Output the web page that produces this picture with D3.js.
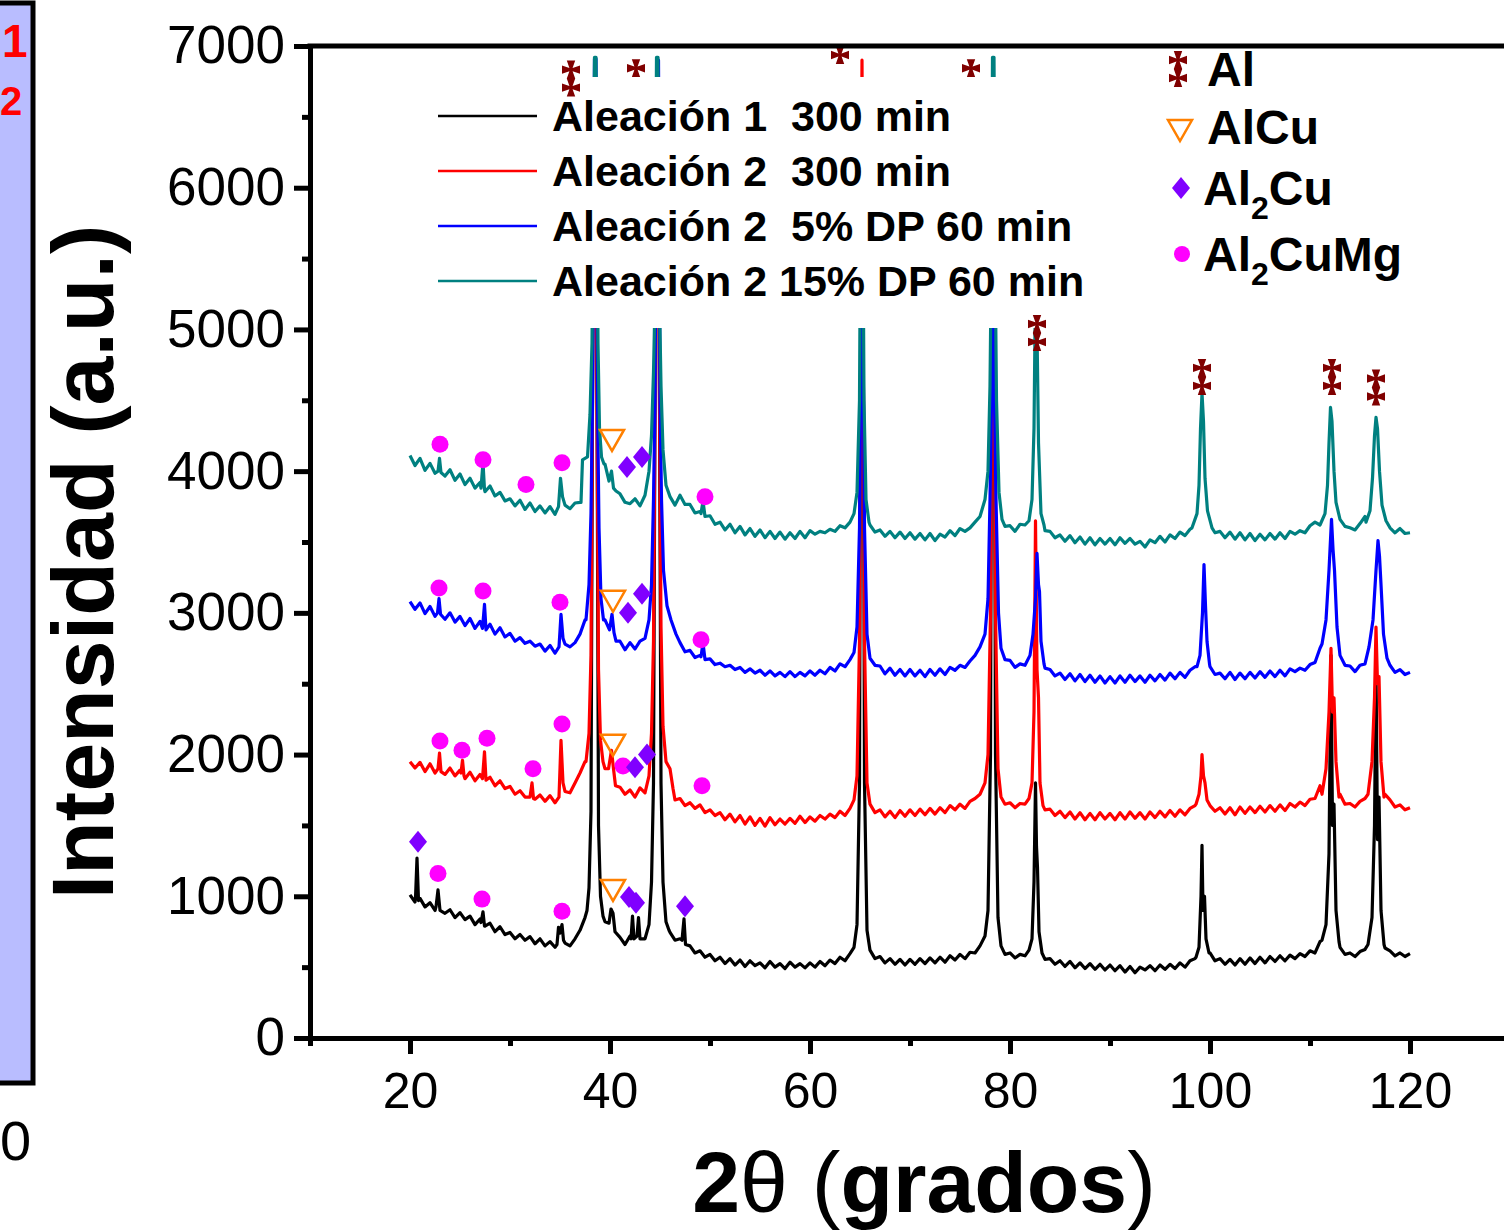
<!DOCTYPE html>
<html>
<head>
<meta charset="utf-8">
<script src="https://cdn.jsdelivr.net/npm/d3@7"></script>
<style>
body{margin:0;background:#fff}
svg{display:block;font-family:"Liberation Sans",Arial,sans-serif}
</style>
</head>
<body>
<svg id="chart" width="1504" height="1231"></svg>
<script>
// 2theta grid for the background readings (20 to 120, every 0.5 deg)
const twoTheta = d3.range(201).map(i => 20 + i * 0.5)

// background intensity, one row per 10 deg
const bgBlack = [
	1010, 960, 985, 925, 955, 900, 940, 880, 905, 850, 885, 835, 860, 800, 840, 790, 810, 750, 785, 730,
	745, 700, 730, 690, 715, 665, 700, 650, 680, 640, 690, 670, 650, 700, 760, 850, 1000, 1400, 1000, 820,
	800, 740, 710, 660, 720, 690, 735, 700, 820, 1000, 1000, 800, 745, 690, 700, 660, 650, 600, 615, 570,
	590, 545, 570, 525, 560, 515, 550, 505, 545, 510, 530, 495, 540, 500, 525, 490, 535, 500, 525, 495,
	530, 500, 540, 510, 550, 525, 570, 545, 595, 640, 700, 700, 620, 560, 575, 530, 560, 520, 555, 515,
	555, 520, 560, 525, 565, 530, 570, 535, 580, 550, 590, 560, 605, 600, 650, 720, 700, 700, 640, 590,
	600, 565, 590, 580, 630, 700, 600, 555, 560, 520, 545, 505, 540, 495, 530, 490, 525, 485, 520, 480,
	515, 475, 510, 465, 505, 460, 500, 480, 510, 475, 515, 485, 520, 490, 530, 500, 545, 560, 600, 600,
	600, 545, 560, 520, 555, 515, 560, 520, 565, 525, 570, 530, 575, 540, 580, 545, 585, 560, 595, 575,
	615, 600, 680, 700, 700, 700, 640, 590, 600, 575, 610, 625, 700, 700, 700, 635, 615, 580, 600, 575,
	595
]
const bgRed = [
	1950, 1905, 1945, 1880, 1935, 1870, 1915, 1860, 1905, 1850, 1890, 1830, 1875, 1815, 1860, 1800, 1840, 1780, 1815, 1760,
	1775, 1720, 1745, 1700, 1730, 1685, 1715, 1670, 1710, 1660, 1720, 1760, 1730, 1800, 1870, 1950, 2000, 3000, 2000, 1900,
	1950, 1790, 1770, 1720, 1750, 1700, 1765, 1730, 1850, 2000, 2000, 1800, 1720, 1680, 1690, 1640, 1660, 1620, 1645, 1590,
	1610, 1570, 1590, 1540, 1580, 1525, 1570, 1510, 1560, 1500, 1550, 1495, 1555, 1505, 1545, 1510, 1550, 1515, 1565, 1520,
	1560, 1530, 1570, 1545, 1580, 1555, 1600, 1570, 1620, 1680, 1800, 1800, 1650, 1590, 1610, 1560, 1600, 1555, 1605, 1565,
	1610, 1570, 1615, 1575, 1620, 1580, 1625, 1590, 1640, 1610, 1650, 1620, 1670, 1690, 1720, 1800, 2000, 2000, 1700, 1650,
	1660, 1625, 1655, 1650, 1700, 1800, 1680, 1610, 1615, 1570, 1600, 1555, 1595, 1545, 1590, 1540, 1585, 1540, 1590, 1545,
	1585, 1540, 1590, 1545, 1595, 1550, 1590, 1545, 1595, 1555, 1600, 1560, 1605, 1565, 1610, 1575, 1620, 1640, 1800, 1800,
	1660, 1600, 1625, 1580, 1625, 1575, 1630, 1585, 1630, 1590, 1635, 1595, 1640, 1600, 1645, 1605, 1655, 1630, 1665, 1640,
	1685, 1690, 1780, 1800, 1800, 1800, 1720, 1650, 1655, 1630, 1670, 1690, 1800, 1800, 1800, 1720, 1680, 1630, 1645, 1610,
	1625
]
const bgBlue = [
	3080, 3025, 3070, 2995, 3045, 2975, 3025, 2955, 3000, 2935, 2975, 2910, 2960, 2890, 2940, 2880, 2920, 2850, 2895, 2830,
	2855, 2800, 2825, 2785, 2800, 2765, 2780, 2730, 2770, 2715, 2800, 2780, 2760, 2790, 2850, 2950, 3100, 4000, 3100, 2950,
	2850, 2810, 2800, 2740, 2790, 2745, 2800, 2820, 2950, 3100, 3100, 3050, 2900, 2820, 2790, 2725, 2735, 2685, 2700, 2665,
	2675, 2635, 2645, 2620, 2630, 2600, 2615, 2580, 2605, 2575, 2595, 2560, 2590, 2555, 2580, 2550, 2585, 2550, 2580, 2555,
	2590, 2560, 2595, 2570, 2615, 2590, 2640, 2620, 2670, 2720, 2900, 2900, 2700, 2630, 2625, 2570, 2610, 2560, 2600, 2555,
	2600, 2555, 2595, 2550, 2600, 2560, 2605, 2565, 2615, 2595, 2630, 2615, 2660, 2700, 2760, 2850, 3000, 3000, 2720, 2670,
	2665, 2615, 2640, 2630, 2680, 2800, 2700, 2610, 2600, 2555, 2575, 2530, 2570, 2520, 2565, 2515, 2560, 2510, 2555, 2505,
	2550, 2505, 2555, 2510, 2560, 2515, 2555, 2510, 2560, 2520, 2565, 2525, 2575, 2535, 2580, 2545, 2595, 2620, 2800, 2800,
	2620, 2565, 2575, 2535, 2580, 2530, 2575, 2535, 2580, 2540, 2585, 2545, 2590, 2550, 2595, 2555, 2605, 2585, 2610, 2595,
	2635, 2650, 2750, 2900, 2900, 2900, 2720, 2630, 2625, 2585, 2630, 2640, 2750, 2900, 2900, 2900, 2630, 2580, 2600, 2565,
	2580
]
const bgTeal = [
	4110, 4040, 4090, 4005, 4055, 3985, 4035, 3965, 4010, 3935, 3980, 3905, 3950, 3880, 3920, 3855, 3895, 3825, 3850, 3790,
	3805, 3755, 3795, 3730, 3775, 3715, 3755, 3705, 3750, 3695, 3780, 3770, 3735, 3775, 3780, 4090, 4200, 5000, 4200, 4050,
	3980, 3880, 3840, 3780, 3770, 3805, 3755, 3830, 3950, 4200, 4200, 4150, 4050, 3900, 3830, 3765, 3765, 3705, 3715, 3680,
	3685, 3625, 3640, 3585, 3625, 3565, 3610, 3550, 3595, 3540, 3585, 3530, 3575, 3525, 3570, 3520, 3565, 3525, 3575, 3530,
	3580, 3555, 3575, 3565, 3590, 3575, 3615, 3600, 3640, 3690, 3800, 3800, 3620, 3570, 3585, 3540, 3575, 3530, 3570, 3525,
	3565, 3520, 3560, 3515, 3560, 3510, 3555, 3535, 3580, 3545, 3595, 3575, 3600, 3640, 3680, 3750, 3900, 3900, 3650, 3610,
	3615, 3575, 3625, 3620, 3700, 4000, 3650, 3580, 3575, 3530, 3550, 3505, 3545, 3495, 3535, 3485, 3530, 3480, 3525, 3485,
	3525, 3480, 3530, 3490, 3525, 3485, 3505, 3465, 3515, 3495, 3540, 3500, 3550, 3525, 3570, 3545, 3590, 3590, 4000, 4000,
	3640, 3565, 3575, 3530, 3570, 3520, 3565, 3515, 3560, 3510, 3555, 3515, 3560, 3520, 3565, 3525, 3575, 3555, 3580, 3565,
	3615, 3640, 3700, 3900, 3900, 3900, 3700, 3610, 3600, 3585, 3630, 3680, 3780, 3900, 3900, 3900, 3600, 3565, 3595, 3560,
	3565
]

// peaks and sharp spikes, [2theta, intensity]
const peaksBlack = [
	[[20.55, 985], [20.7, 1270], [20.85, 970]],
	[[22.6, 925], [22.8, 1045], [23.0, 900]],
	[[27.1, 815], [27.3, 890], [27.45, 790]],
	[[34.7, 660], [34.85, 780], [35.0, 740], [35.2, 800], [35.35, 690]],
	[[37.7, 900], [37.9, 1060], [38.1, 1600], [38.25, 4500], [38.4, 6400], [38.55, 6400], [38.7, 4500], [38.85, 1500], [39.05, 1000], [39.3, 860]],
	[[39.9, 810], [40.1, 910], [40.3, 880], [40.5, 750]],
	[[42.1, 700], [42.25, 860], [42.4, 700], [42.7, 720], [42.85, 850], [43.0, 700]],
	[[43.9, 800], [44.15, 1100], [44.35, 1800], [44.5, 4500], [44.65, 6400], [44.8, 6400], [44.95, 4500], [45.1, 1800], [45.3, 1100], [45.6, 820], [45.9, 760]],
	[[47.2, 690], [47.4, 840], [47.55, 660]],
	[[64.4, 640], [64.7, 800], [64.95, 1800], [65.05, 4500], [65.2, 6000], [65.35, 4500], [65.45, 1800], [65.7, 760], [66.0, 620]],
	[[77.5, 720], [77.8, 900], [78.05, 2000], [78.15, 4500], [78.3, 6200], [78.45, 4500], [78.55, 2000], [78.8, 850], [79.1, 650]],
	[[81.9, 620], [82.2, 700], [82.4, 1100], [82.55, 1800], [82.65, 1350], [82.75, 1200], [82.9, 750], [83.2, 600]],
	[[98.6, 570], [98.9, 640], [99.1, 1000], [99.2, 1360], [99.3, 900], [99.45, 1000], [99.6, 700], [99.9, 600]],
	[[111.2, 690], [111.6, 800], [111.9, 1300], [112.1, 2700], [112.25, 1500], [112.4, 1650], [112.6, 900], [112.9, 680]],
	[[115.8, 660], [116.2, 850], [116.45, 1500], [116.6, 2600], [116.75, 1400], [116.9, 1700], [117.1, 900], [117.4, 660]]
]
const peaksRed = [
	[[22.8, 1900], [22.95, 2010], [23.1, 1880]],
	[[25.1, 1870], [25.25, 1960], [25.4, 1850]],
	[[27.25, 1830], [27.45, 2020], [27.6, 1820]],
	[[32.0, 1700], [32.2, 1800], [32.35, 1690]],
	[[34.9, 1700], [35.1, 2100], [35.3, 1800], [35.5, 1740]],
	[[37.6, 1950], [37.9, 2150], [38.1, 2700], [38.25, 4500], [38.4, 6500], [38.55, 6500], [38.7, 4500], [38.85, 2600], [39.05, 2100], [39.3, 1950]],
	[[39.85, 1900], [40.15, 2030], [40.35, 1900], [40.55, 1780]],
	[[43.9, 1850], [44.15, 2150], [44.35, 2800], [44.5, 4500], [44.65, 6500], [44.8, 6500], [44.95, 4500], [45.1, 2900], [45.3, 2200], [45.6, 1950], [46.0, 1900], [46.3, 1760]],
	[[64.4, 1680], [64.7, 1850], [64.95, 2800], [65.05, 4500], [65.2, 6900], [65.35, 4500], [65.45, 2800], [65.7, 1800], [66.0, 1650]],
	[[77.5, 1800], [77.8, 2000], [78.05, 3000], [78.15, 4500], [78.3, 6300], [78.45, 4500], [78.55, 3000], [78.8, 1900], [79.1, 1700]],
	[[81.9, 1690], [82.2, 1800], [82.4, 2300], [82.55, 3650], [82.7, 2600], [82.85, 2400], [83.0, 1800], [83.3, 1640]],
	[[98.6, 1650], [98.9, 1720], [99.1, 1850], [99.2, 2000], [99.35, 1850], [99.5, 1800], [99.7, 1680], [100.0, 1640]],
	[[111.2, 1720], [111.6, 1900], [111.9, 2300], [112.1, 2750], [112.25, 2300], [112.4, 2400], [112.6, 1950], [112.9, 1700]],
	[[115.8, 1720], [116.2, 1950], [116.45, 2400], [116.6, 2900], [116.75, 2500], [116.9, 2550], [117.1, 1950], [117.4, 1700]]
]
const peaksBlue = [
	[[22.75, 3000], [22.9, 3100], [23.05, 2990]],
	[[27.25, 2890], [27.45, 3060], [27.6, 2880]],
	[[34.9, 2760], [35.1, 2990], [35.3, 2820], [35.5, 2780]],
	[[37.6, 2950], [37.9, 3200], [38.1, 3700], [38.25, 4500], [38.45, 6910], [38.6, 6910], [38.75, 4500], [38.9, 3600], [39.1, 3100], [39.35, 2950]],
	[[39.95, 2880], [40.2, 2990], [40.4, 2860], [40.6, 2800]],
	[[43.9, 2950], [44.15, 3200], [44.35, 3800], [44.5, 4500], [44.7, 6900], [44.85, 6900], [45.0, 4500], [45.15, 3800], [45.35, 3300], [45.7, 3050], [46.1, 2950], [46.6, 2850]],
	[[49.1, 2690], [49.3, 2790], [49.5, 2670]],
	[[64.4, 2720], [64.7, 2900], [64.95, 3600], [65.05, 4500], [65.2, 6400], [65.35, 4500], [65.45, 3600], [65.7, 2850], [66.0, 2680]],
	[[77.5, 2850], [77.8, 3100], [78.0, 3800], [78.15, 4500], [78.3, 6600], [78.45, 4500], [78.6, 3800], [78.85, 3000], [79.1, 2750]],
	[[82.0, 2700], [82.3, 2850], [82.55, 3100], [82.7, 3420], [82.85, 3200], [82.95, 3150], [83.1, 2800], [83.4, 2640]],
	[[98.7, 2620], [99.0, 2700], [99.25, 3000], [99.4, 3340], [99.55, 3050], [99.7, 2800], [99.95, 2640]],
	[[111.2, 2780], [111.6, 2950], [111.9, 3300], [112.15, 3660], [112.3, 3450], [112.45, 3300], [112.7, 2900], [113.0, 2700]],
	[[115.9, 2760], [116.3, 2950], [116.6, 3300], [116.8, 3510], [116.95, 3400], [117.1, 3200], [117.35, 2850], [117.7, 2680]]
]
const peaksTeal = [
	[[22.8, 4000], [22.95, 4090], [23.1, 3990]],
	[[27.1, 3880], [27.3, 4060], [27.45, 3870]],
	[[34.85, 3750], [35.05, 3950], [35.25, 3820], [35.5, 3760]],
	[[37.1, 3780], [37.25, 4080], [37.75, 4100], [38.0, 4400], [38.2, 4900], [38.45, 6920], [38.6, 6920], [38.8, 4900], [38.95, 4300], [39.15, 4100], [39.4, 4050]],
	[[39.9, 3930], [40.15, 4000], [40.35, 3880], [40.6, 3860]],
	[[43.9, 4000], [44.15, 4250], [44.35, 4700], [44.5, 5200], [44.65, 6920], [44.8, 6920], [44.95, 5200], [45.1, 4600], [45.3, 4150], [45.6, 3900], [46.0, 3820], [46.5, 3760]],
	[[49.1, 3700], [49.3, 3790], [49.5, 3680]],
	[[64.4, 3700], [64.7, 3850], [64.95, 4500], [65.1, 6400], [65.25, 6400], [65.4, 4500], [65.6, 3800], [65.9, 3640]],
	[[77.5, 3800], [77.8, 4000], [78.0, 4600], [78.15, 5600], [78.25, 6920], [78.4, 6920], [78.5, 5600], [78.65, 4500], [78.9, 3850], [79.2, 3660]],
	[[81.9, 3650], [82.2, 3800], [82.4, 4300], [82.5, 5000], [82.6, 5150], [82.7, 5000], [82.85, 4200], [83.1, 3700], [83.4, 3620]],
	[[98.2, 3600], [98.7, 3700], [98.9, 3900], [99.05, 4300], [99.2, 4550], [99.35, 4350], [99.5, 3950], [99.75, 3720], [100.2, 3600]],
	[[111.0, 3620], [111.5, 3700], [111.75, 3900], [111.9, 4200], [112.05, 4450], [112.2, 4350], [112.4, 4000], [112.6, 3780], [113.0, 3660]],
	[[115.6, 3640], [116.0, 3720], [116.25, 3950], [116.45, 4250], [116.6, 4380], [116.75, 4300], [116.95, 4000], [117.2, 3760], [117.6, 3650]]
]

// phase markers [2theta, intensity]
const phaseAl2CuMg = [[23.0, 4190], [27.3, 4080], [31.6, 3905], [35.2, 4060], [49.5, 3820],
	[22.9, 3175], [27.3, 3155], [35.0, 3075], [49.1, 2810],
	[23.0, 2095], [25.2, 2030], [27.7, 2115], [32.3, 1900], [35.2, 2215], [41.3, 1920], [49.2, 1780],
	[22.8, 1160], [27.2, 980], [35.2, 895]]
const phaseAl2Cu = [[41.7, 4030], [43.2, 4100], [41.8, 3000], [43.2, 3135], [42.5, 1910], [43.7, 2000],
	[20.8, 1385], [41.9, 995], [42.6, 955], [47.5, 930]]
const phaseAlCu = [[40.2, 4220], [40.3, 3085], [40.3, 2070], [40.3, 1045]]
const phaseAl = [[82.7, 4975], [99.2, 4665], [112.2, 4665], [116.6, 4590]]
const phaseAlTop = [[36.1, 6770], [42.6, 6780], [63.0, 7000], [76.1, 6780]]

const seriesNames = ['Aleación 1  300 min', 'Aleación 2  300 min', 'Aleación 2  5% DP 60 min', 'Aleación 2 15% DP 60 min']
const seriesColors = ['#000000', '#ff0000', '#0000ff', '#008080']

const xMajor = [20, 40, 60, 80, 100, 120]
const xMinor = [10, 30, 50, 70, 90, 110, 130]
const yMajor = [0, 1000, 2000, 3000, 4000, 5000, 6000, 7000]
const yMinor = [500, 1500, 2500, 3500, 4500, 5500, 6500]

// merge background grid with peak segments
function buildSeries(bg, peaks){
	const pts = []
	twoTheta.forEach((t, i) => {
		const inside = peaks.some(p => t >= p[0][0] && t <= p[p.length - 1][0])
		if(!inside) pts.push([t, bg[i]])
	})
	peaks.forEach(p => p.forEach(d => pts.push(d)))
	return pts.sort((a, b) => a[0] - b[0])
}

const series = [
	buildSeries(bgBlack, peaksBlack),
	buildSeries(bgRed, peaksRed),
	buildSeries(bgBlue, peaksBlue),
	buildSeries(bgTeal, peaksTeal)
]

const svg = d3.select('#chart')
const font = '"Liberation Sans", Arial, sans-serif'

// cropped neighbour panel on the left edge
svg.append('rect')
	.attr('x', -20).attr('y', 3).attr('width', 53).attr('height', 1080)
	.attr('fill', '#b9bdff').attr('stroke', '#000').attr('stroke-width', 5)
svg.append('text').attr('x', 2).attr('y', 57).attr('fill', '#ff0000')
	.attr('font-size', 46).attr('font-weight', 'bold').text('1')
svg.append('text').attr('x', 0).attr('y', 115).attr('fill', '#ff0000')
	.attr('font-size', 40).attr('font-weight', 'bold').text('2')
svg.append('text').attr('x', 0).attr('y', 1160).attr('fill', '#000')
	.attr('font-size', 56).text('0')

// scales
const x = d3.scaleLinear().domain([10, 130]).range([310, 1510])
const y = d3.scaleLinear().domain([0, 7000]).range([1038, 46])

svg.append('clipPath').attr('id', 'plotclip')
	.append('rect').attr('x', 310).attr('y', 46).attr('width', 1200).attr('height', 992)

const plot = svg.append('g').attr('clip-path', 'url(#plotclip)')

const line = d3.line().x(d => x(d[0])).y(d => y(d[1]))

plot.selectAll('path.series')
	.data(series)
	.join('path')
		.attr('class', 'series')
		.attr('d', line)
		.attr('fill', 'none')
		.attr('stroke', (d, i) => seriesColors[i])
		.attr('stroke-width', 3.2)
		.attr('stroke-linejoin', 'round')

// marker shapes
function crossPatee(cy, R){
	const a = 1.6, b = 4.2
	const p = [[-b, -R], [b, -R], [a, -a], [R, -b], [R, b], [a, a], [b, R], [-b, R], [-a, a], [-R, b], [-R, -b], [-a, -a]]
	return 'M' + p.map(q => q[0] + ',' + (q[1] + cy)).join('L') + 'Z'
}
const daggerPath = crossPatee(-9, 9) + crossPatee(9, 9)
const diamondPath = 'M0,-11L9,0L0,11L-9,0Z'
const trianglePath = 'M-12,-10L12,-10L0,11Z'

function drawDaggers(g, data){
	g.selectAll(null).data(data).join('path')
		.attr('d', daggerPath)
		.attr('transform', d => 'translate(' + x(d[0]) + ',' + y(d[1]) + ')')
		.attr('fill', '#800000')
}

drawDaggers(plot.append('g'), phaseAlTop)

// legend background hides the peak tops
svg.append('rect').attr('x', 588).attr('y', 77).attr('width', 510).attr('height', 251).attr('fill', '#fff')

const marks = svg.append('g')
marks.selectAll('circle').data(phaseAl2CuMg).join('circle')
	.attr('cx', d => x(d[0])).attr('cy', d => y(d[1])).attr('r', 8.5).attr('fill', '#ff00ff')
marks.selectAll('path.dia').data(phaseAl2Cu).join('path').attr('class', 'dia')
	.attr('d', diamondPath)
	.attr('transform', d => 'translate(' + x(d[0]) + ',' + y(d[1]) + ')')
	.attr('fill', '#8000ff')
marks.selectAll('path.tri').data(phaseAlCu).join('path').attr('class', 'tri')
	.attr('d', trianglePath)
	.attr('transform', d => 'translate(' + x(d[0]) + ',' + y(d[1]) + ')')
	.attr('fill', 'none').attr('stroke', '#ff8000').attr('stroke-width', 2.5)
drawDaggers(marks.append('g'), phaseAl)

// axes
function styleAxis(g, size){
	g.attr('font-family', font).attr('font-size', size)
	g.select('.domain').attr('stroke-width', 5).attr('stroke-linecap', 'square')
	g.selectAll('.tick line').attr('stroke-width', 5)
	g.selectAll('.tick text').attr('fill', '#000')
}

svg.append('g').attr('transform', 'translate(0,1038)')
	.call(d3.axisBottom(x).tickValues(xMinor).tickSize(8).tickSizeOuter(0).tickFormat(''))
	.call(styleAxis, 50)
svg.append('g').attr('transform', 'translate(0,1038)')
	.call(d3.axisBottom(x).tickValues(xMajor).tickSize(16).tickSizeOuter(0).tickPadding(18).tickFormat(d3.format('d')))
	.call(styleAxis, 50)
svg.append('g').attr('transform', 'translate(310,0)')
	.call(d3.axisLeft(y).tickValues(yMinor).tickSize(8).tickSizeOuter(0).tickFormat(''))
	.call(styleAxis, 52)
svg.append('g').attr('transform', 'translate(310,0)')
	.call(d3.axisLeft(y).tickValues(yMajor).tickSize(16).tickSizeOuter(0).tickPadding(9).tickFormat(d3.format('d')))
	.call(styleAxis, 53)

// top frame
svg.append('line')
	.attr('x1', x(10)).attr('x2', x(130)).attr('y1', y(7000)).attr('y2', y(7000))
	.attr('stroke', '#000').attr('stroke-width', 5).attr('stroke-linecap', 'square')

// axis titles
svg.append('text')
	.attr('transform', 'translate(113,562) rotate(-90)')
	.attr('text-anchor', 'middle').attr('font-size', 88).attr('font-weight', 'bold')
	.text('Intensidad (a.u.)')

const xt = svg.append('text').attr('x', 924).attr('y', 1212)
	.attr('text-anchor', 'middle').attr('font-size', 86)
xt.append('tspan').attr('font-weight', 'bold').text('2')
xt.append('tspan').text('θ (')
xt.append('tspan').attr('font-weight', 'bold').text('grados')
xt.append('tspan').text(')')

// series legend
const leg = svg.append('g')
seriesNames.forEach((name, i) => {
	const cy = 116 + i * 55
	leg.append('line').attr('x1', 438).attr('x2', 537).attr('y1', cy).attr('y2', cy)
		.attr('stroke', seriesColors[i]).attr('stroke-width', 2.5)
	leg.append('text').attr('x', 552).attr('y', cy + 15)
		.attr('font-size', 43).attr('font-weight', 'bold')
		.style('white-space', 'pre').text(name)
})

// phase legend
const phaseLeg = svg.append('g').attr('font-weight', 'bold').attr('font-size', 48)
phaseLeg.append('path').attr('d', daggerPath).attr('transform', 'translate(1178,69)').attr('fill', '#800000')
phaseLeg.append('path').attr('d', trianglePath).attr('transform', 'translate(1180,130)')
	.attr('fill', 'none').attr('stroke', '#ff8000').attr('stroke-width', 2.5)
phaseLeg.append('path').attr('d', diamondPath).attr('transform', 'translate(1181,188)').attr('fill', '#8000ff')
phaseLeg.append('circle').attr('cx', 1182).attr('cy', 254).attr('r', 8).attr('fill', '#ff00ff')

phaseLeg.append('text').attr('x', 1207).attr('y', 86).text('Al')
phaseLeg.append('text').attr('x', 1207).attr('y', 144).text('AlCu')
const t3 = phaseLeg.append('text').attr('x', 1203).attr('y', 205)
t3.append('tspan').text('Al')
t3.append('tspan').attr('font-size', 32).attr('dy', 14).text('2')
t3.append('tspan').attr('dy', -14).text('Cu')
const t4 = phaseLeg.append('text').attr('x', 1203).attr('y', 271)
t4.append('tspan').text('Al')
t4.append('tspan').attr('font-size', 32).attr('dy', 14).text('2')
t4.append('tspan').attr('dy', -14).text('CuMg')
</script>
</body>
</html>
